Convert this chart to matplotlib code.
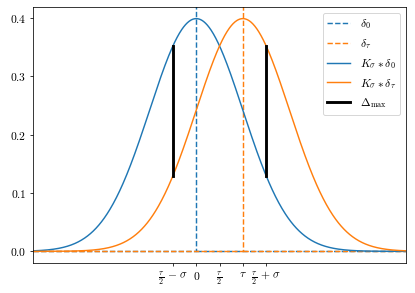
import numpy as np
import matplotlib
matplotlib.use('Agg')
import matplotlib.pyplot as plt

plt.rcParams['font.family'] = 'serif'
plt.rcParams['font.serif'] = ['cmr10']
plt.rcParams['mathtext.fontset'] = 'cm'
plt.rcParams['axes.formatter.use_mathtext'] = True
plt.rcParams['font.size'] = 12

# parameters of the two shifted kernels
tau = 1.0
sigma = 1.0
x_min, x_max = tau / 2 - 4, tau / 2 + 4

tick_pos = [tau / 2 - sigma, 0, tau / 2, tau, tau / 2 + sigma]
tick_labels = [r'$\frac{\tau}{2}\,-\,\sigma$', r'$0$', r'$\frac{\tau}{2}$',
               r'$\tau$', r'$\frac{\tau}{2}\,+\,\sigma$']
y_ticks = [0.0, 0.1, 0.2, 0.3, 0.4]


def gauss(x, mu, s):
    return np.exp(-0.5 * ((x - mu) / s) ** 2) / (s * np.sqrt(2 * np.pi))


def dirac(mu, height=10.0):
    # zero everywhere with a single spike at mu
    xs = np.array([x_min, mu, mu, np.nan, mu, x_max])
    ys = np.array([0.0, 0.0, height, np.nan, 0.0, 0.0])
    return xs, ys


x = np.linspace(x_min, x_max, 801)
k0 = gauss(x, 0, sigma)
ktau = gauss(x, tau, sigma)

fig = plt.figure(figsize=(6.0, 4.235), dpi=69.2)
ax = fig.add_axes([0.0795, 0.1024, 0.8985, 0.8736])

ax.plot(*dirac(0), '--', color='C0', label=r'$\delta_0$')
ax.plot(*dirac(tau), '--', color='C1', label=r'$\delta_\tau$')
ax.plot(x, k0, color='C0', label=r'$K_\sigma * \delta_0$')
ax.plot(x, ktau, color='C1', label=r'$K_\sigma * \delta_\tau$')

for xp in [tau / 2 - sigma, tau / 2 + sigma]:
    lo = min(gauss(xp, 0, sigma), gauss(xp, tau, sigma))
    hi = max(gauss(xp, 0, sigma), gauss(xp, tau, sigma))
    line, = ax.plot([xp, xp], [lo, hi], color='black', lw=3)
line.set_label(r'$\Delta_{\max}$')

peak = gauss(0, 0, sigma)
ax.set_xlim(x_min, x_max)
ax.set_ylim(-0.05 * peak, 1.05 * peak)
ax.set_xticks(tick_pos)
ax.set_xticklabels(tick_labels)
ax.set_yticks(y_ticks)
ax.legend(loc='upper right')

fig.savefig('out.png', dpi=69.2)
